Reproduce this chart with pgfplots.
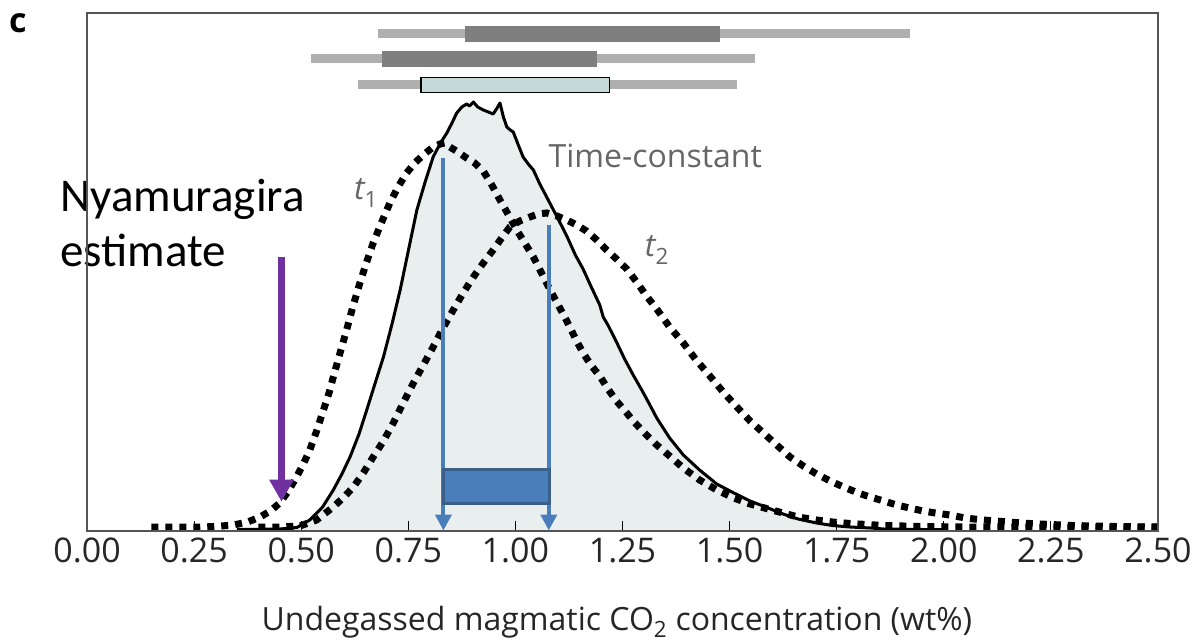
\documentclass[border=0pt]{standalone}
\usepackage{fontspec}
\setmainfont{Open Sans}
\newfontfamily\carlito{Carlito}
\usepackage{pgfplots}
\usepackage{pgfplotstable}
\pgfplotsset{compat=1.18}
\usetikzlibrary{arrows.meta}

\definecolor{fillc}{HTML}{E9EFEE}
\definecolor{barlight}{HTML}{AFAFAF}
\definecolor{bardark}{HTML}{7F7F7F}
\definecolor{boxfill}{HTML}{C5D9D8}
\definecolor{blueA}{HTML}{4A7EBB}
\definecolor{blueB}{HTML}{3A5F8B}
\definecolor{purp}{HTML}{7030A0}
\definecolor{labgray}{HTML}{666666}
\definecolor{framec}{HTML}{555555}

% time-constant (solid)
\pgfplotstableread{
x y
0.35 1.5
0.45 2
0.49 3.5
0.52 11
0.55 24
0.575 41
0.595 57
0.614 74
0.635 97
0.653 121
0.672 147
0.692 174
0.712 207
0.731 241
0.750 280
0.770 321
0.790 350
0.808 374
0.825 388
0.840 398
0.852 408
0.863 418
0.875 424
0.886 427
0.893 425
0.902 429
0.912 424
0.925 421
0.937 419
0.948 417
0.956 422
0.964 428
0.972 414
0.980 404
0.988 401
0.995 399
1.005 388
1.018 374
1.030 367
1.042 361
1.057 347
1.073 334
1.095 316
1.120 295
1.140 276
1.158 262
1.175 246
1.197 226
1.205 214
1.216 206
1.236 189
1.255 172
1.275 156
1.295 141
1.314 126
1.330 113
1.360 93
1.392 76
1.430 61
1.470 47
1.510 38
1.548 30
1.590 23
1.625 17
1.660 12
1.703 8
1.740 5.5
1.781 4
1.830 3
1.860 2
1.950 1.5
2.000 1.5
}\solid

% t1 (dotted, left)
\pgfplotstableread{
x y
0.15 4
0.20 4
0.264 4
0.30 4.5
0.342 6
0.375 9
0.404 14
0.428 20
0.450 28
0.470 40
0.489 54
0.505 67
0.520 81
0.536 100
0.552 121
0.565 138
0.575 154
0.590 177
0.606 201
0.621 225
0.637 248
0.652 268
0.668 288
0.687 308
0.707 328
0.726 344
0.746 358
0.765 368
0.785 376
0.805 383
0.824 387
0.835 388
0.847 384
0.866 379
0.886 373
0.905 368
0.925 360
0.945 346
0.964 331
0.984 316
1.003 301
1.022 288
1.042 274
1.061 258
1.081 241
1.100 226
1.120 210
1.143 190
1.158 178
1.178 165
1.197 155
1.216 142
1.236 130
1.260 118
1.275 110
1.306 96
1.330 86
1.360 75
1.392 63
1.430 51
1.470 41
1.510 33
1.548 27
1.590 22
1.625 18
1.660 14
1.703 11
1.740 9
1.781 7.5
1.820 6.5
1.860 5.5
1.950 4.5
2.050 4
2.200 4
2.350 4
2.500 4
}\tone

% t2 (dotted, right)
\pgfplotstableread{
x y
0.40 4
0.45 4
0.497 5
0.536 11
0.575 24
0.600 34
0.622 44
0.645 58
0.668 74
0.692 90
0.715 108
0.738 128
0.762 148
0.785 166
0.808 184
0.831 203
0.855 221
0.878 238
0.902 254
0.925 268
0.948 281
0.968 293
0.987 304
1.010 310
1.034 314
1.053 317
1.073 318
1.097 315
1.120 311
1.143 306
1.166 300
1.190 291
1.213 281
1.236 272
1.260 262
1.283 249
1.306 235
1.330 222
1.360 204
1.392 188
1.420 172
1.454 155
1.485 139
1.517 124
1.548 110
1.579 98
1.610 86
1.641 74
1.672 65
1.703 57
1.735 50
1.766 44
1.800 38
1.828 34
1.860 30
1.890 26
1.920 23
1.952 20
1.980 18
2.014 16
2.050 13
2.092 11
2.150 9
2.200 7.5
2.250 6.5
2.300 5.5
2.400 4.5
2.500 4
}\ttwo

\begin{document}
\begin{tikzpicture}
\begin{axis}[
  at={(0,0)}, anchor=south west,
  scale only axis, width=1071bp, height=518bp,
  xmin=0, xmax=2.5, ymin=0, ymax=518,
  clip=false, axis on top,
  axis line style={draw=framec, line width=1.6bp},
  xtick={0,0.25,0.5,0.75,1,1.25,1.5,1.75,2,2.25,2.5},
  xticklabels={0.00,0.25,0.50,0.75,1.00,1.25,1.50,1.75,2.00,2.25,2.50},
  ytick=\empty,
  xtick pos=bottom, xtick align=inside,
  major tick length=10bp,
  x tick style={black, line width=1.1bp},
  xticklabel style={font=\fontsize{34bp}{40bp}\selectfont, text=black!85, inner sep=0pt, yshift=-7bp},
]
% top range bars
\addplot[barlight, line width=9bp] coordinates {(0.679,497.3) (1.921,497.3)};
\addplot[bardark, line width=16bp] coordinates {(0.882,497.3) (1.478,497.3)};
\addplot[barlight, line width=9bp] coordinates {(0.523,472.3) (1.559,472.3)};
\addplot[bardark, line width=16bp] coordinates {(0.689,472.3) (1.190,472.3)};
\addplot[barlight, line width=9bp] coordinates {(0.633,446.3) (1.517,446.3)};
\addplot[fill=boxfill, draw=black, line width=1.4bp] coordinates {(0.780,438.7) (1.219,438.7) (1.219,453.7) (0.780,453.7)} -- cycle;

% distributions
\addplot[fill=fillc, draw=none] table[x=x,y=y]{\solid} \closedcycle;
\addplot[black, line width=3bp, line join=round] table[x=x,y=y]{\solid};
\addplot[black, line width=7bp, dash pattern=on 7bp off 7bp] table[x=x,y=y]{\tone};
\addplot[black, line width=7bp, dash pattern=on 7bp off 7bp] table[x=x,y=y]{\ttwo};

% blue arrows and box
\addplot[blueA, line width=4bp, -{Triangle[width=16bp,length=16bp]}] coordinates {(0.832,373) (0.832,0.5)};
\addplot[blueA, line width=4bp, -{Triangle[width=16bp,length=16bp]}] coordinates {(1.078,306) (1.078,0.5)};
\addplot[fill=blueA, draw=blueB, line width=3bp] coordinates {(0.8315,27.5) (1.079,27.5) (1.079,61.2) (0.8315,61.2)} -- cycle;

% purple arrow
\addplot[purp, line width=7bp, -{Triangle[width=23bp,length=22bp]}] coordinates {(0.454,274.3) (0.454,29.3)};

% texts
\node[anchor=base west, inner sep=0pt, font=\carlito\fontsize{47bp}{56bp}\selectfont] at (axis cs:-0.063,319.3) {Nyamuragira};
\node[anchor=base west, inner sep=0pt, font=\carlito\fontsize{47bp}{56bp}\selectfont] at (axis cs:-0.063,264.3) {estimate};
\node[anchor=base west, inner sep=0pt, text=labgray, font=\fontsize{32bp}{38bp}\selectfont] at (axis cs:1.077,363.3) {Time-constant};
\node[anchor=base west, inner sep=0pt, text=labgray, font=\fontsize{32bp}{38bp}\selectfont] at (axis cs:0.623,331) {\itshape t\textsubscript{\upshape 1}};
\node[anchor=base west, inner sep=0pt, text=labgray, font=\fontsize{32bp}{38bp}\selectfont] at (axis cs:1.302,274) {\itshape t\textsubscript{\upshape 2}};
\node[anchor=base west, inner sep=0pt, font=\bfseries\fontsize{34bp}{40bp}\selectfont] at (axis cs:-0.182,498) {c};
\node[anchor=base, inner sep=0pt, text=black!85, font=\fontsize{32bp}{38bp}\selectfont] at (axis cs:1.237,-99) {Undegassed magmatic CO\textsubscript{2} concentration (wt\%)};
\end{axis}
\pgfresetboundingbox
\useasboundingbox (-87bp,-112bp) rectangle (1106bp,531bp);
\end{tikzpicture}
\end{document}
